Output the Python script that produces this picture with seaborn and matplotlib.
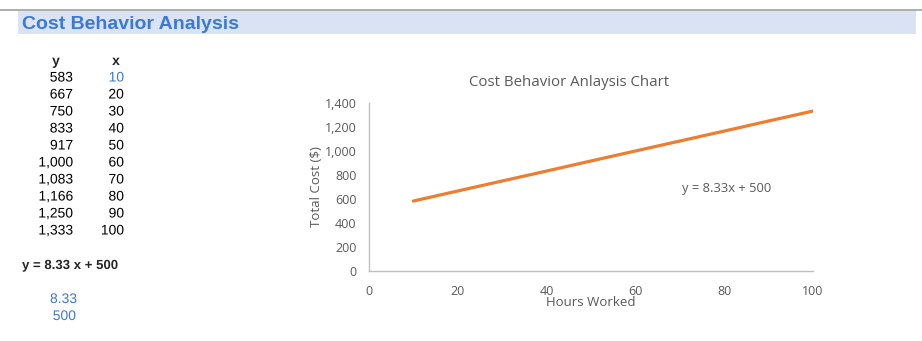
import matplotlib
matplotlib.use("Agg")
import matplotlib.pyplot as plt
import matplotlib.patheffects as pe
from matplotlib.patches import Rectangle
from matplotlib.lines import Line2D
import seaborn as sns
import pandas as pd

# Cost data: total cost by hours worked
hours = [10, 20, 30, 40, 50, 60, 70, 80, 90, 100]
total_cost = [583, 667, 750, 833, 917, 1000, 1083, 1166, 1250, 1333]
slope = 8.33
intercept = 500
y_ticks = [0, 200, 400, 600, 800, 1000, 1200, 1400]
x_ticks = [0, 20, 40, 60, 80, 100]

df = pd.DataFrame({"Hours Worked": hours, "Total Cost ($)": total_cost})

sns.set_theme(style="white")
plt.rcParams["font.family"] = ["Open Sans", "DejaVu Sans"]

W, H = 922, 341
fig = plt.figure(figsize=(W / 100, H / 100), dpi=100)

def fx(px):
    return px / W

def fy(py):
    return 1 - py / H

# Sheet header: rule and shaded title band
fig.add_artist(Line2D([0, 1], [fy(10), fy(10)], color="#A0A0A0", lw=1.2))
fig.add_artist(Rectangle((fx(18), fy(34)), fx(916 - 18), (34 - 11) / H,
                         facecolor="#D9E3F4", edgecolor="none"))
fig.text(fx(22), fy(29), "Cost Behavior Analysis", family="Liberation Sans",
         fontsize=14, fontweight="bold", color="#3B78D8", va="baseline", ha="left")

# Data table (outline-rendered so the rows sit on an even grid)
tfont = dict(family="Liberation Sans", fontsize=10, va="baseline",
             path_effects=[pe.Normal()])
fig.text(fx(56), fy(65), "y", ha="center", fontweight="bold", **tfont)
fig.text(fx(116), fy(65), "x", ha="center", fontweight="bold", **tfont)
for i, (yv, xv) in enumerate(zip(total_cost, hours)):
    row = 81.5 + i * 17
    fig.text(fx(73), fy(row), f"{yv:,}", ha="right", color="black", **tfont)
    fig.text(fx(124), fy(row), f"{xv}", ha="right",
             color="#3B78D8" if i == 0 else "black", **tfont)
fig.text(fx(22), fy(269), f"y = {slope:.2f} x + {intercept}", ha="left",
         family="Liberation Sans", fontsize=9.5, fontweight="bold", va="baseline",
         path_effects=[pe.Normal()])
fig.text(fx(77), fy(303), f"{slope:.2f}", ha="right", color="#3B78D8", **tfont)
fig.text(fx(76), fy(320), f"{intercept}", ha="right", color="#3B78D8", **tfont)

# Chart
ax = fig.add_axes([fx(369), fy(271), fx(813 - 369), (271 - 103) / H])
sns.lineplot(data=df, x="Hours Worked", y="Total Cost ($)", ax=ax,
             color="#ED7D31", lw=2.3)
ax.set_xlim(0, 100)
ax.set_ylim(0, 1400)
ax.set_xticks(x_ticks)
ax.set_yticks(y_ticks)
ax.set_yticklabels([f"{v:,}" for v in y_ticks])
ax.tick_params(axis="both", length=0, labelsize=9, labelcolor="#595959")
ax.tick_params(axis="x", pad=10)
ax.tick_params(axis="y", pad=9)
for s in ["top", "right"]:
    ax.spines[s].set_visible(False)
for s in ["left", "bottom"]:
    ax.spines[s].set_color("#BFBFBF")
    ax.spines[s].set_linewidth(1.0)
ax.grid(False)

ax.set_xlabel("Hours Worked", fontsize=9.5, color="#595959")
ax.xaxis.set_label_coords(0.5, -0.19)
ax.xaxis.label.set_va("center")
ax.set_ylabel("Total Cost ($)", fontsize=9.5, color="#595959")
ax.yaxis.set_label_coords(-0.118, 0.5)
ax.yaxis.label.set_va("center")

ax.text(0.45, 1.12, "Cost Behavior Anlaysis Chart", transform=ax.transAxes,
        ha="center", va="center", fontsize=10.8, color="#595959")
ax.text(80.5, 685, f"y = {slope:.2f}x + {intercept}", ha="center", va="center",
        fontsize=9.3, color="#595959")

fig.savefig("out.png", dpi=100)
